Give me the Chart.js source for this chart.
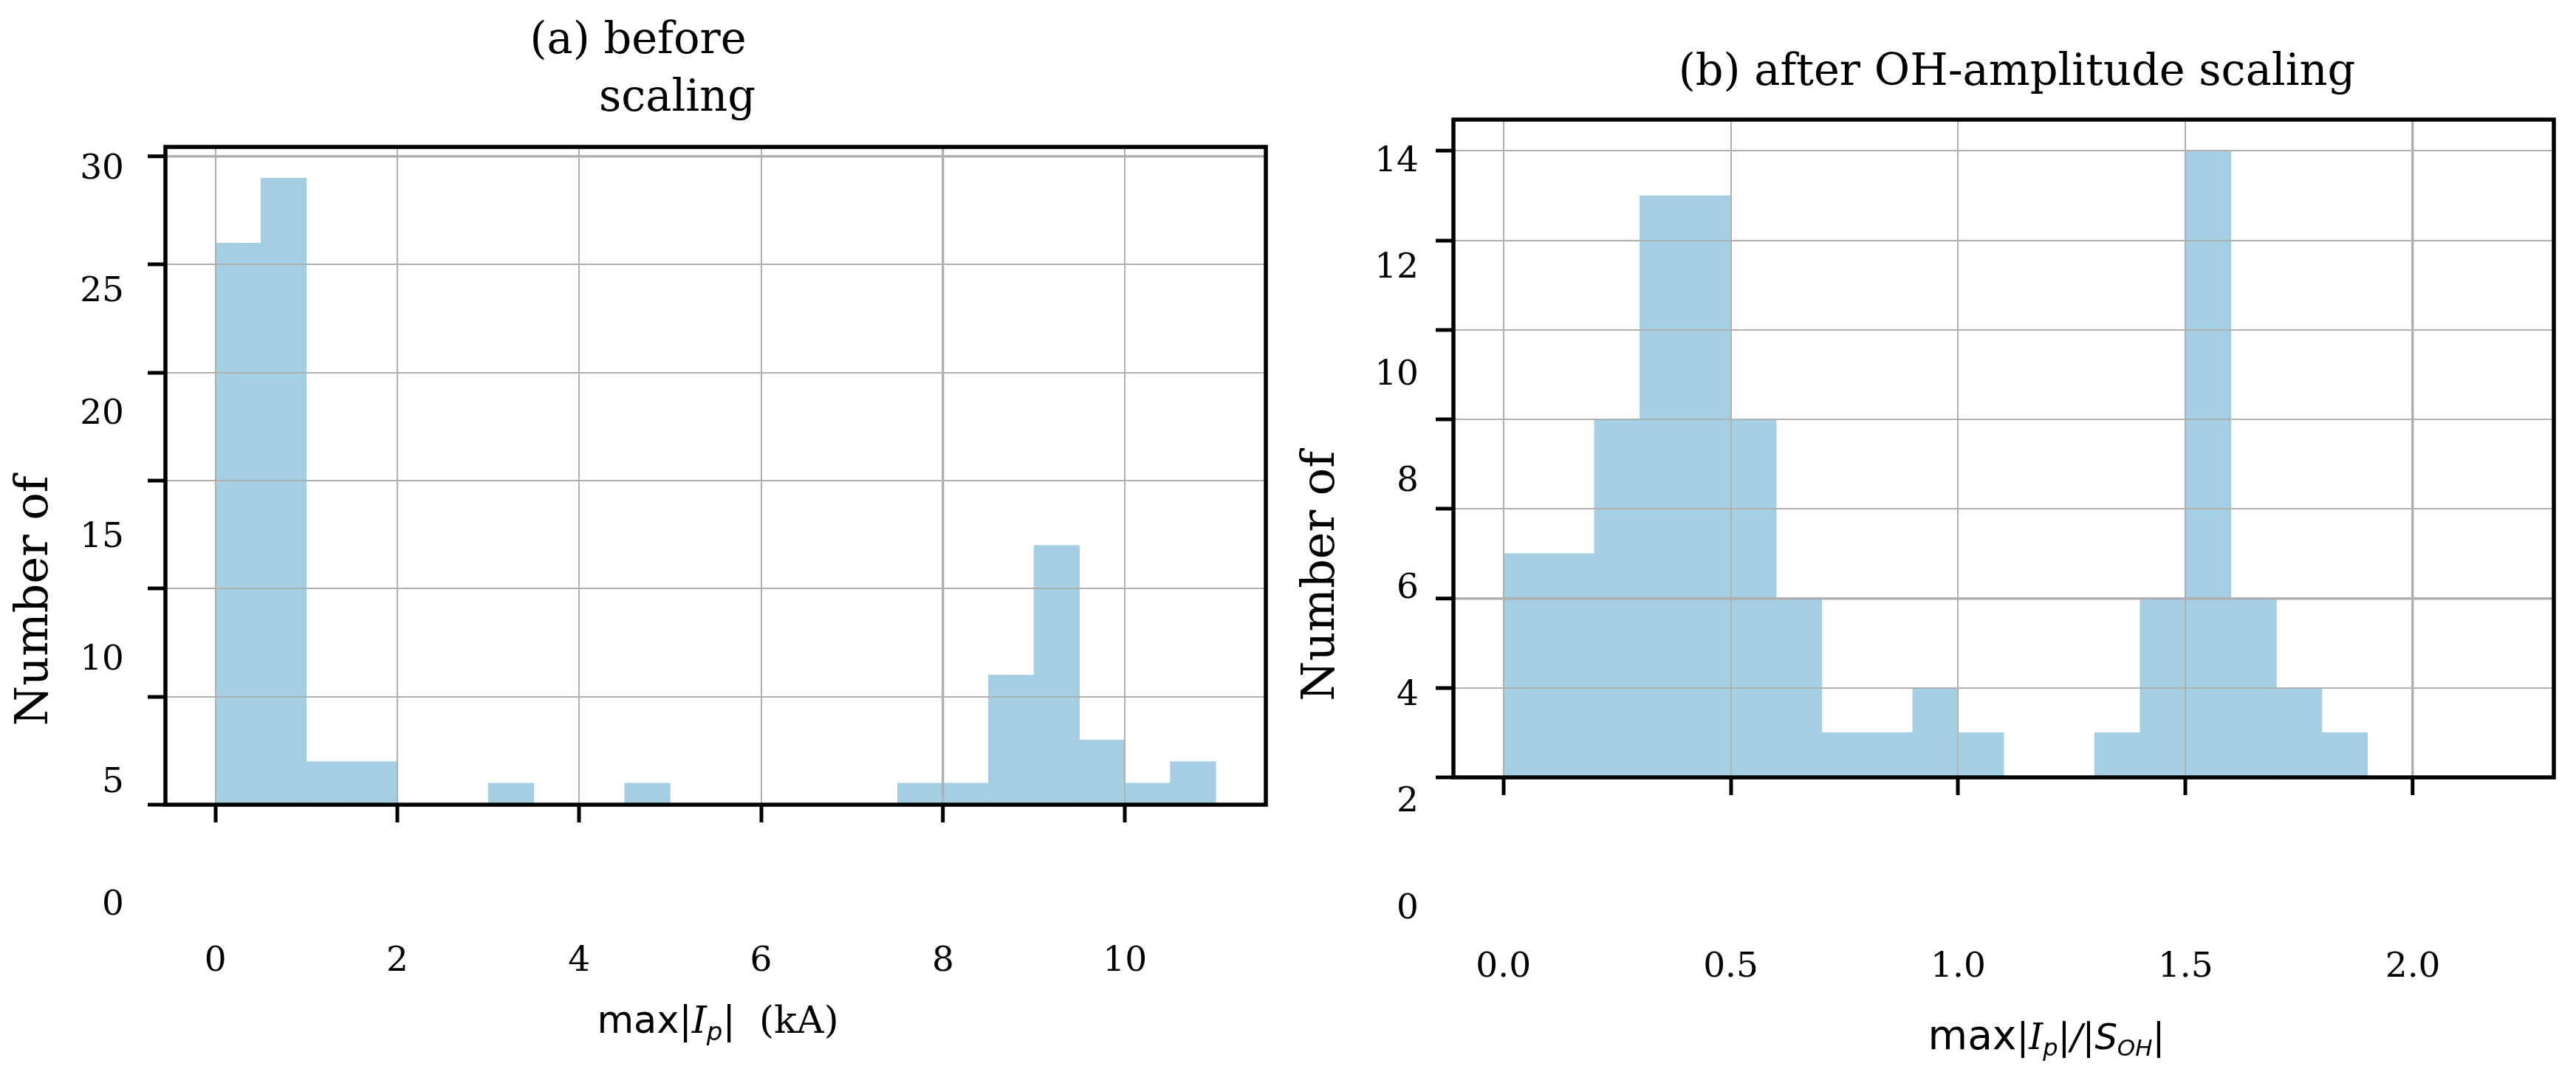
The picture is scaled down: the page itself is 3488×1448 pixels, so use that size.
<!DOCTYPE html>
<html>
<head>
<meta charset="utf-8">
<title>max |Ip| histograms</title>
<script src="https://cdn.jsdelivr.net/npm/chart.js@4.4.1/dist/chart.umd.min.js"></script>
<style>
  html, body { margin: 0; padding: 0; background: #ffffff; }
  #figure { position: relative; width: 3488px; height: 1448px; }
  #figure canvas { position: absolute; top: 0; }
  #before-chart { left: 0; }
  #after-chart { left: 1744px; }
</style>
</head>
<body>
<div id="figure">
  <canvas id="before-chart" width="1744" height="1448"></canvas>
  <canvas id="after-chart" width="1744" height="1448"></canvas>
</div>
<script>
// (a) before scaling: bins of 0.5 kA (left edge of each bin)
const beforeBinStart = [0, 0.5, 1, 1.5, 2, 2.5, 3, 3.5, 4, 4.5, 5, 5.5, 6, 6.5, 7, 7.5, 8, 8.5, 9, 9.5, 10, 10.5];
const beforeCounts   = [26, 29, 2, 2, 0, 0, 1, 0, 0, 1, 0, 0, 0, 0, 0, 1, 1, 6, 12, 3, 1, 2];
const beforeBinWidth = 0.5;
const beforeXTicks = [0, 2, 4, 6, 8, 10];
const beforeXTickLabels = ['0', '2', '4', '6', '8', '10'];
const beforeYTicks = [0, 5, 10, 15, 20, 25, 30];
const beforeYTickLabels = ['0', '5', '10', '15', '20', '25', '30'];

// (b) after OH-amplitude scaling: bins of 0.1
const afterBinStart = [0, 0.1, 0.2, 0.3, 0.4, 0.5, 0.6, 0.7, 0.8, 0.9, 1.0, 1.1, 1.2, 1.3, 1.4, 1.5, 1.6, 1.7, 1.8, 1.9, 2.0, 2.1];
const afterCounts   = [5, 5, 8, 13, 13, 8, 4, 1, 1, 2, 1, 0, 0, 1, 4, 14, 4, 2, 1, 0, 0, 0];
const afterBinWidth = 0.1;
const afterXTicks = [0, 0.5, 1, 1.5, 2];
const afterXTickLabels = ['0.0', '0.5', '1.0', '1.5', '2.0'];
const afterYTicks = [0, 2, 4, 6, 8, 10, 12, 14];
const afterYTickLabels = ['0', '2', '4', '6', '8', '10', '12', '14'];

const BAR_COLOR = '#a6cee3';
const GRID_COLOR = '#b0b0b0';
const SERIF = '"DejaVu Serif"';
const SANS = '"DejaVu Sans"';

// draws spines and all the text of one panel
const panelText = {
  id: 'panelText',
  afterDraw(chart, args, opts) {
    const ctx = chart.ctx;
    const area = chart.chartArea;
    const xs = chart.scales.x;
    const ys = chart.scales.y;
    const midX = (area.left + area.right) / 2;
    ctx.save();

    // spines
    ctx.strokeStyle = '#000';
    ctx.lineWidth = 5.5;
    ctx.strokeRect(area.left, area.top, area.right - area.left, area.bottom - area.top);

    ctx.fillStyle = '#000';
    ctx.textBaseline = 'alphabetic';

    // title
    ctx.font = '59px ' + SERIF;
    ctx.textAlign = 'center';
    opts.titleLines.forEach(line => {
      ctx.fillText(line.text, midX + line.dx, line.y);
    });

    // y tick labels (they sit on a stretched copy of the value scale)
    ctx.font = '47px ' + SERIF;
    ctx.textAlign = 'right';
    opts.yTicks.forEach((v, i) => {
      const pos = ys.getPixelForValue(opts.yLabelShift + opts.yLabelStretch * v);
      ctx.fillText(opts.yTickLabels[i], area.left - opts.yLabelGap, pos + 17);
    });

    // x tick labels
    ctx.textAlign = 'center';
    opts.xTicks.forEach((v, i) => {
      ctx.fillText(opts.xTickLabels[i], xs.getPixelForValue(v), area.bottom + opts.xLabelDrop);
    });

    // y title
    ctx.save();
    ctx.translate(opts.yTitleX, area.top + opts.yTitleFrac * (area.bottom - area.top));
    ctx.rotate(-Math.PI / 2);
    ctx.font = '62px ' + SERIF;
    ctx.textAlign = 'center';
    ctx.textBaseline = 'middle';
    ctx.fillText('Number of', 0, 0);
    ctx.restore();

    // x title, mixed fonts
    let total = 0;
    opts.xTitle.forEach(p => {
      ctx.font = p.font;
      p.w = ctx.measureText(p.text).width;
      total += p.w;
    });
    let cursor = midX + opts.xTitleDx - total / 2;
    ctx.textAlign = 'left';
    opts.xTitle.forEach(p => {
      ctx.font = p.font;
      ctx.fillText(p.text, cursor, area.bottom + opts.xTitleDrop + (p.dy || 0));
      cursor += p.w;
    });

    ctx.restore();
  }
};

function histogramChart(canvasId, binStart, counts, binWidth, axes, text) {
  const points = binStart.map((b, i) => ({ x: b + binWidth / 2, y: counts[i] }));
  return new Chart(document.getElementById(canvasId), {
    type: 'bar',
    data: {
      datasets: [{
        data: points,
        backgroundColor: BAR_COLOR,
        borderWidth: 0,
        barPercentage: 1,
        categoryPercentage: 1,
      }],
    },
    options: {
      responsive: false,
      animation: false,
      layout: { padding: { left: 0, top: axes.top, right: 30, bottom: 0 } },
      plugins: {
        legend: { display: false },
        tooltip: { enabled: false },
        panelText: text,
      },
      scales: {
        x: {
          type: 'linear',
          min: axes.xMin,
          max: axes.xMax,
          offset: false,
          afterBuildTicks: s => { s.ticks = axes.xTicks.map(v => ({ value: v })); },
          afterFit: s => { s.height = 1448 - axes.bottom; },
          ticks: { display: false },
          border: { display: false },
          grid: {
            z: 1,
            offset: false,
            color: GRID_COLOR,
            lineWidth: c => (c.tick && c.tick.value === axes.xHeavy ? 3.4 : 2),
            tickColor: '#000',
            tickWidth: 5,
            tickLength: 24,
          },
        },
        y: {
          min: 0,
          max: axes.yMax,
          afterBuildTicks: s => { s.ticks = axes.yTicks.map(v => ({ value: v })); },
          afterFit: s => { s.width = 224; },
          ticks: { display: false },
          border: { display: false },
          grid: {
            z: 1,
            color: GRID_COLOR,
            lineWidth: c => (c.tick && c.tick.value === axes.yHeavy ? 3.4 : 2),
            tickColor: '#000',
            tickWidth: 5,
            tickLength: 24,
          },
        },
      },
    },
    plugins: [panelText],
  });
}

histogramChart('before-chart', beforeBinStart, beforeCounts, beforeBinWidth, {
  top: 199, bottom: 1090,
  xMin: -0.55, xMax: 11.55, yMax: 30.45,
  xTicks: beforeXTicks, yTicks: beforeYTicks,
  xHeavy: 8, yHeavy: 30,
}, {
  titleLines: [{ text: '(a) before', dx: -105, y: 72 }, { text: 'scaling', dx: -52, y: 150 }],
  yTicks: beforeYTicks, yTickLabels: beforeYTickLabels,
  yLabelShift: -4.52, yLabelStretch: 1.136, yLabelGap: 56,
  xTicks: beforeXTicks, xTickLabels: beforeXTickLabels, xLabelDrop: 225,
  yTitleX: 48, yTitleFrac: 0.69,
  xTitleDx: 3, xTitleDrop: 309,
  xTitle: [
    { text: 'max', font: '51px ' + SANS },
    { text: '|', font: '51px ' + SANS },
    { text: 'I', font: 'italic 51px ' + SERIF },
    { text: 'p', font: 'italic 34px ' + SANS, dy: 10 },
    { text: '|', font: '51px ' + SANS },
    { text: '  (kA)', font: '51px ' + SERIF },
  ],
});

histogramChart('after-chart', afterBinStart, afterCounts, afterBinWidth, {
  top: 162, bottom: 1053,
  xMin: -0.11, xMax: 2.31, yMax: 14.7,
  xTicks: afterXTicks, yTicks: afterYTicks,
  xHeavy: 2, yHeavy: 4,
}, {
  titleLines: [{ text: '(b) after OH-amplitude scaling', dx: 18, y: 115 }],
  yTicks: afterYTicks, yTickLabels: afterYTickLabels,
  yLabelShift: -2.87, yLabelStretch: 1.193, yLabelGap: 47,
  xTicks: afterXTicks, xTickLabels: afterXTickLabels, xLabelDrop: 270,
  yTitleX: 46, yTitleFrac: 0.694,
  xTitleDx: 58, xTitleDrop: 368,
  xTitle: [
    { text: 'max', font: '55px ' + SANS },
    { text: '|', font: '50px ' + SANS },
    { text: 'I', font: 'italic 48px ' + SERIF },
    { text: 'p', font: 'italic 32px ' + SANS, dy: 9 },
    { text: '|', font: '50px ' + SANS },
    { text: '/', font: 'italic 48px ' + SANS },
    { text: '|', font: '50px ' + SANS },
    { text: 'S', font: 'italic 48px ' + SANS },
    { text: 'OH', font: 'italic 31px ' + SANS, dy: 9 },
    { text: '|', font: '50px ' + SANS },
  ],
});
</script>
</body>
</html>
